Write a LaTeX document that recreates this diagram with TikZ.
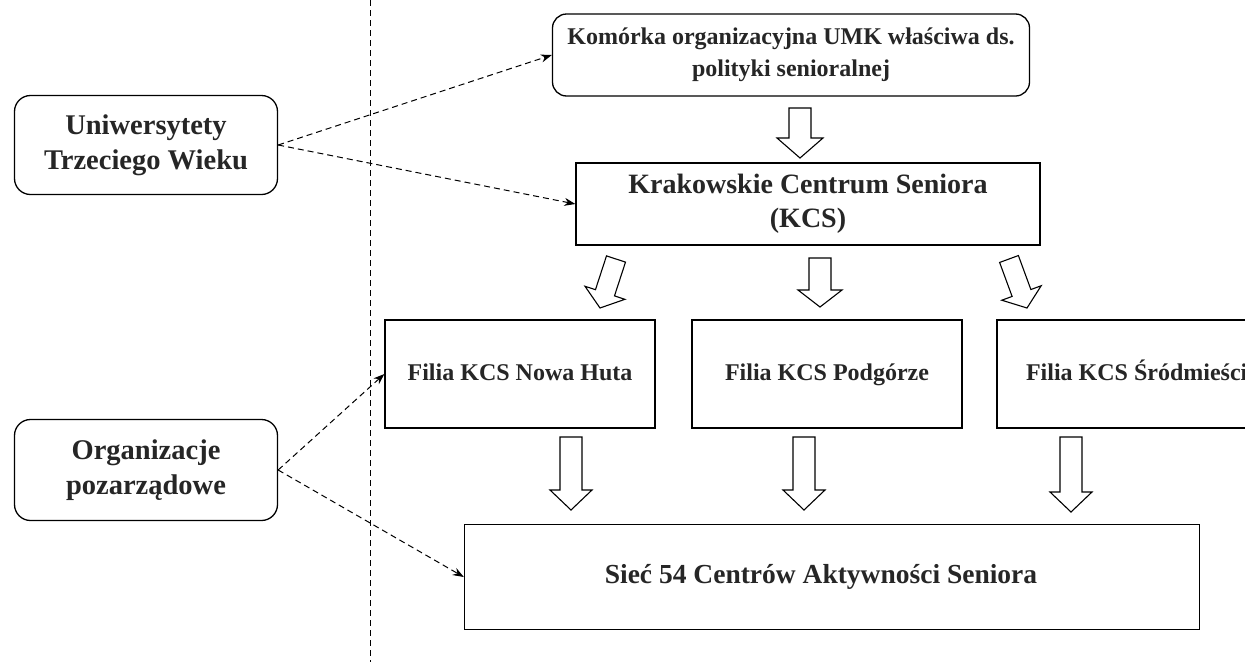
\documentclass[tikz,border=0pt]{standalone}
\usepackage{fontspec}
\setmainfont{Liberation Serif}
\usetikzlibrary{calc,arrows.meta}
\tikzset{
  box/.style={draw, line width=1.3pt, align=center, font=\bfseries, inner sep=0pt, text=black!85},
  rbox/.style={box, rounded corners=16pt},
  filia/.style={box, minimum width=270pt, minimum height=108pt, font=\bfseries\fontsize{24}{26}\selectfont, text height=17pt, text depth=5pt},
  dasharrow/.style={line width=1pt, dash pattern=on 6pt off 4pt, -{Stealth[length=11pt,width=8pt]}},
  hollow/.style={draw, line width=1.1pt, line join=miter},
}
\newcommand\harrow[5]{% tail, tip, shaft half width, head half width, head length
  \draw[hollow] ($(#1)!#3!90:(#2)$)
    -- ($($(#2)!#5!(#1)$)!#3!-90:(#1)$)
    -- ($($(#2)!#5!(#1)$)!#4!-90:(#1)$)
    -- (#2)
    -- ($($(#2)!#5!(#1)$)!#4!90:(#1)$)
    -- ($($(#2)!#5!(#1)$)!#3!90:(#1)$)
    -- ($(#1)!#3!-90:(#2)$) -- cycle;}
\begin{document}
\begin{tikzpicture}[x=1pt,y=-1pt]
\useasboundingbox (0,0) rectangle (1245,662);
\fill[white] (0,0) rectangle (1245,662);
% divider
\coordinate (dtop) at (370,0);
\coordinate (dbot) at (370,662);
\draw[line width=1pt, dash pattern=on 6pt off 4pt] (dtop) -- (dbot);
% left boxes
\node[rbox, minimum width=263pt, minimum height=99pt, font=\bfseries\fontsize{28.5}{35}\selectfont] (utw) at (146,145) {Uniwersytety\\Trzeciego Wieku};
\node[rbox, minimum width=263pt, minimum height=101pt, font=\bfseries\fontsize{28.5}{35}\selectfont] (ngo) at (146,470) {Organizacje\\pozarządowe};
% right column
\node[rbox, rounded corners=14pt, minimum width=477pt, minimum height=82pt, font=\bfseries\fontsize{24}{32}\selectfont] (umk) at (791,55) {Komórka organizacyjna UMK właściwa ds.\\polityki senioralnej};
\node[box, minimum width=464pt, minimum height=82pt, font=\bfseries\fontsize{28}{34}\selectfont] (kcs) at (808,204) {Krakowskie Centrum Seniora\\(KCS)};
\node[filia] (nh) at (520,374) {Filia KCS Nowa Huta};
\node[filia] (pg) at (827,374) {Filia KCS Podgórze};
\node[filia, minimum width=290pt] (sr) at (1142,374) {Filia KCS Śródmieście};
\node[box, minimum width=735pt, minimum height=105pt, font=\bfseries\fontsize{27.5}{30}\selectfont] (sca) at (832,577) {\hspace*{-22pt}Sieć 54 Centrów Aktywności Seniora};
% hollow arrows
\coordinate (a1s) at (800,108); \coordinate (a1e) at (800,158);
\harrow{a1s}{a1e}{11pt}{23pt}{20pt}
\coordinate (a2s) at (616,259); \coordinate (a2e) at (600,308);
\harrow{a2s}{a2e}{10pt}{21pt}{16pt}
\coordinate (a3s) at (820,258); \coordinate (a3e) at (820,307);
\harrow{a3s}{a3e}{11pt}{22pt}{17pt}
\coordinate (a4s) at (1009,259); \coordinate (a4e) at (1027,308);
\harrow{a4s}{a4e}{10pt}{21pt}{16pt}
\coordinate (b1s) at (571,437); \coordinate (b1e) at (571,510);
\harrow{b1s}{b1e}{11pt}{21pt}{20pt}
\coordinate (b2s) at (804,437); \coordinate (b2e) at (804,510);
\harrow{b2s}{b2e}{11pt}{21pt}{20pt}
\coordinate (b3s) at (1071,437); \coordinate (b3e) at (1071,512);
\harrow{b3s}{b3e}{11pt}{21pt}{20pt}
% dashed connectors
\draw[dasharrow] (utw.east) -- (umk.west);
\draw[dasharrow] (utw.east) -- (kcs.west);
\draw[dasharrow] (ngo.east) -- (nh.west);
\draw[dasharrow] (ngo.east) -- (sca.west);
\end{tikzpicture}
\end{document}
